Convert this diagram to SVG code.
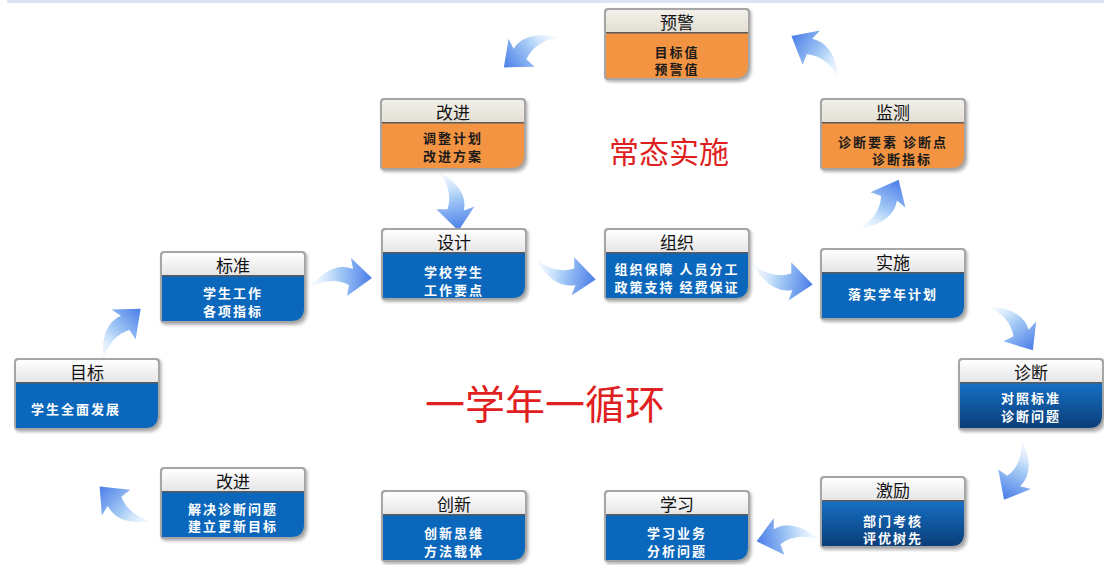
<svg xmlns="http://www.w3.org/2000/svg" width="1104" height="565" viewBox="0 0 1104 565">
<style>
.frame{fill:#a6a6a6;filter:url(#sh)}
.hdrB{fill:url(#gH)}
.hdrO{fill:url(#gHO)}
.sep{fill:#5a5a5a}
.bB{fill:#0b67bb}
.bD{fill:url(#gD)}
.bO{fill:#f29442}
.t{font-family:"Noto Sans CJK SC","Noto Sans",sans-serif;font-size:17px;fill:#111;text-anchor:middle}
.w{font-family:"Noto Sans CJK SC","Noto Sans",sans-serif;font-size:13px;font-weight:bold;fill:#fff;text-anchor:middle;letter-spacing:2px}
.k{font-family:"Noto Sans CJK SC","Noto Sans",sans-serif;font-size:13px;font-weight:bold;fill:#1a1a1a;text-anchor:middle;letter-spacing:2px}
.arr{fill:url(#gA)}
.red{font-family:"Noto Sans CJK SC","Noto Sans",sans-serif;fill:#e01f22;text-anchor:middle}
</style>
<defs>
<filter id="sh" x="-10%" y="-10%" width="125%" height="130%"><feDropShadow dx="1.5" dy="2" stdDeviation="1.5" flood-color="#000" flood-opacity="0.3"/></filter>
<linearGradient id="gH" x1="0" y1="0" x2="0" y2="1"><stop offset="0" stop-color="#ffffff"/><stop offset="1" stop-color="#e4e4e4"/></linearGradient>
<linearGradient id="gHO" x1="0" y1="0" x2="0" y2="1"><stop offset="0" stop-color="#f2f0ea"/><stop offset="1" stop-color="#e2ded2"/></linearGradient>
<linearGradient id="gD" x1="0" y1="0" x2="0" y2="1"><stop offset="0" stop-color="#1670c4"/><stop offset="1" stop-color="#0a3d78"/></linearGradient>
<linearGradient id="gA" x1="0" y1="0" x2="1" y2="0"><stop offset="0" stop-color="#e6f2ff" stop-opacity="0.3"/><stop offset="0.45" stop-color="#a8cdf6"/><stop offset="1" stop-color="#4a7de8"/></linearGradient>
<path id="frame" d="M0,4 Q0,0 4,0 H142 Q146,0 146,4 V58 Q146,72 132,72 H4 Q0,72 0,68 Z"/>
<path id="hdr" d="M2,5 Q2,2 5,2 H141 Q144,2 144,5 V25 H2 Z"/>
<path id="body" d="M2,25 H144 V57 Q144,70 131,70 H2 Z"/>
<path id="arrow" d="M-31,10 Q-9,-16 12,-8 L10,-19 L31,1 L6,19 L8,8 Q-9,-1 -31,10 Z"/>
</defs>
<rect x="7" y="0" width="1097" height="3" fill="#dbe5f1"/>
<text class="red" x="669" y="163" font-size="30">常态实施</text>
<text class="red" x="545" y="419" font-size="40">一学年一循环</text>
<g id="connectors">
<use href="#arrow" class="arr" transform="translate(528,48) rotate(143) scale(1,-1)"/>
<use href="#arrow" class="arr" transform="translate(818,52) rotate(213) scale(1,-1)"/>
<use href="#arrow" class="arr" transform="translate(884,207) rotate(-60) scale(1,-1)"/>
<use href="#arrow" class="arr" transform="translate(454,200) rotate(80)"/>
<use href="#arrow" class="arr" transform="translate(341,277)"/>
<use href="#arrow" class="arr" transform="translate(118,330) rotate(-45)"/>
<use href="#arrow" class="arr" transform="translate(565,275) rotate(10) scale(1,-1)"/>
<use href="#arrow" class="arr" transform="translate(782,280) rotate(10) scale(1,-1)"/>
<use href="#arrow" class="arr" transform="translate(1015,325) rotate(53)"/>
<use href="#arrow" class="arr" transform="translate(1018,472) rotate(115)"/>
<use href="#arrow" class="arr" transform="translate(787,535) rotate(170) scale(1,-1)"/>
<use href="#arrow" class="arr" transform="translate(122,508) rotate(222)"/>
</g>
<g id="node-yujing" transform="translate(604,8)">
<use href="#frame" class="frame"/><use href="#hdr" class="hdrO"/><use href="#body" class="bO"/><rect class="sep" x="2" y="24" width="142" height="1.5"/>
<text class="t" x="73" y="21">预警</text>
<text class="k" x="73" y="49">目标值</text><text class="k" x="73" y="66">预警值</text>
</g>
<g id="node-gaijin1" transform="translate(380,98)">
<use href="#frame" class="frame"/><use href="#hdr" class="hdrO"/><use href="#body" class="bO"/><rect class="sep" x="2" y="24" width="142" height="1.5"/>
<text class="t" x="73" y="21">改进</text>
<text class="k" x="73" y="45">调整计划</text><text class="k" x="73" y="63">改进方案</text>
</g>
<g id="node-jiance" transform="translate(820,98)">
<use href="#frame" class="frame"/><use href="#hdr" class="hdrO"/><use href="#body" class="bO"/><rect class="sep" x="2" y="24" width="142" height="1.5"/>
<text class="t" x="73" y="21">监测</text>
<text class="k" x="73" y="49">诊断要素 诊断点</text><text class="k" x="82" y="66">诊断指标</text>
</g>
<g id="node-sheji" transform="translate(381,228)">
<use href="#frame" class="frame"/><use href="#hdr" class="hdrB"/><use href="#body" class="bB"/><rect class="sep" x="2" y="24" width="142" height="1.5"/>
<text class="t" x="73" y="21">设计</text>
<text class="w" x="73" y="49">学校学生</text><text class="w" x="73" y="67">工作要点</text>
</g>
<g id="node-zuzhi" transform="translate(604,228)">
<use href="#frame" class="frame"/><use href="#hdr" class="hdrB"/><use href="#body" class="bB"/><rect class="sep" x="2" y="24" width="142" height="1.5"/>
<text class="t" x="73" y="21">组织</text>
<text class="w" x="73" y="46" font-size="14" letter-spacing="1.5">组织保障 人员分工</text><text class="w" x="73" y="64" font-size="14" letter-spacing="1.5">政策支持 经费保证</text>
</g>
<g id="node-shishi" transform="translate(820,248)">
<use href="#frame" class="frame"/><use href="#hdr" class="hdrB"/><use href="#body" class="bB"/><rect class="sep" x="2" y="24" width="142" height="1.5"/>
<text class="t" x="73" y="21">实施</text>
<text class="w" x="73" y="51">落实学年计划</text>
</g>
<g id="node-biaozhun" transform="translate(160,251)">
<use href="#frame" class="frame"/><use href="#hdr" class="hdrB"/><use href="#body" class="bB"/><rect class="sep" x="2" y="24" width="142" height="1.5"/>
<text class="t" x="73" y="21">标准</text>
<text class="w" x="73" y="47">学生工作</text><text class="w" x="73" y="65">各项指标</text>
</g>
<g id="node-mubiao" transform="translate(14,358)">
<use href="#frame" class="frame"/><use href="#hdr" class="hdrB"/><use href="#body" class="bB"/><rect class="sep" x="2" y="24" width="142" height="1.5"/>
<text class="t" x="73" y="21">目标</text>
<text class="w" x="62" y="56">学生全面发展</text>
</g>
<g id="node-zhenduan" transform="translate(958,358)">
<use href="#frame" class="frame"/><use href="#hdr" class="hdrB"/><use href="#body" class="bD"/><rect class="sep" x="2" y="24" width="142" height="1.5"/>
<text class="t" x="73" y="21">诊断</text>
<text class="w" x="73" y="45">对照标准</text><text class="w" x="73" y="63">诊断问题</text>
</g>
<g id="node-gaijin2" transform="translate(160,467)">
<use href="#frame" class="frame"/><use href="#hdr" class="hdrB"/><use href="#body" class="bB"/><rect class="sep" x="2" y="24" width="142" height="1.5"/>
<text class="t" x="73" y="21">改进</text>
<text class="w" x="73" y="47">解决诊断问题</text><text class="w" x="73" y="64">建立更新目标</text>
</g>
<g id="node-chuangxin" transform="translate(381,490)">
<use href="#frame" class="frame"/><use href="#hdr" class="hdrB"/><use href="#body" class="bB"/><rect class="sep" x="2" y="24" width="142" height="1.5"/>
<text class="t" x="73" y="21">创新</text>
<text class="w" x="73" y="48">创新思维</text><text class="w" x="73" y="66">方法载体</text>
</g>
<g id="node-xuexi" transform="translate(604,490)">
<use href="#frame" class="frame"/><use href="#hdr" class="hdrB"/><use href="#body" class="bB"/><rect class="sep" x="2" y="24" width="142" height="1.5"/>
<text class="t" x="73" y="21">学习</text>
<text class="w" x="73" y="48">学习业务</text><text class="w" x="73" y="66">分析问题</text>
</g>
<g id="node-jili" transform="translate(820,476)">
<use href="#frame" class="frame"/><use href="#hdr" class="hdrB"/><use href="#body" class="bD"/><rect class="sep" x="2" y="24" width="142" height="1.5"/>
<text class="t" x="73" y="21">激励</text>
<text class="w" x="73" y="50">部门考核</text><text class="w" x="73" y="67">评优树先</text>
</g>
</svg>
